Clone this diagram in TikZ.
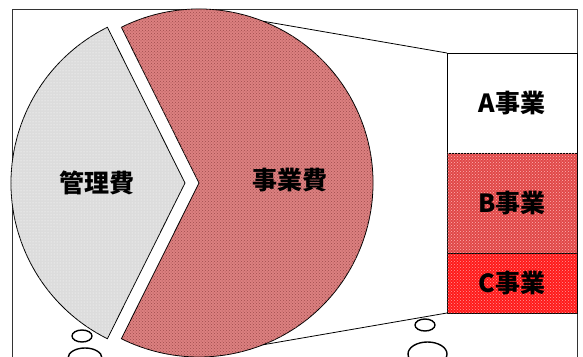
\documentclass[tikz,border=0pt]{standalone}
\usepackage{fontspec}
\newfontfamily\jpfont{Noto Sans CJK JP}
\usepackage{tikz}
\usetikzlibrary{calc}
\usetikzlibrary{positioning}
\usetikzlibrary{patterns}
\definecolor{mgrey}{HTML}{DCDCDC}
\definecolor{jpink}{HTML}{DC8080}
\definecolor{bred}{HTML}{E04848}
\definecolor{cred}{HTML}{FF1A1A}
\def\pieradius{174}
\tikzset{slice/.style={draw=black, line width=0.8pt}}
\tikzset{lbl/.style={font=\jpfont\bfseries\fontsize{25}{28}\selectfont, text=black}}
\tikzset{segbox/.style={draw=black, line width=0.8pt, minimum width=130pt, outer sep=0pt, inner sep=0pt, lbl}}
\tikzset{bubble/.style={draw=black, line width=1.4pt}}

\begin{document}
\begin{tikzpicture}[x=1pt, y=1pt]
\useasboundingbox (0,0) rectangle (583,356);
\clip (0,0) rectangle (583,356);
\draw[line width=0.8pt, black!80] (12,-5) -- (12,347) -- (577,347) -- (577,-5);
\coordinate (gc) at (185,173);
\coordinate (rc) at (199,173);
\draw[slice, fill=mgrey, postaction={pattern=dots, pattern color=white}]
  (gc) -- ([shift={(116.5:\pieradius)}]gc) arc (116.5:243.5:\pieradius) -- cycle;
\draw[slice, fill=jpink, postaction={pattern=crosshatch dots, pattern color=red!45!black!70}]
  (rc) -- ([shift={(116.5:\pieradius)}]rc) arc (116.5:-116.5:\pieradius) -- cycle;
\node (mg) [lbl] at (97,173) {管理費};
\node (jg) [lbl] at (290,176) {事業費};
\node (A) [segbox, fill=white, minimum height=100pt, anchor=north west] at (447,303) {A事業};
\node (B) [segbox, fill=bred, minimum height=100pt, below=0pt of A,
  postaction={pattern=crosshatch dots, pattern color=red!30!white}] {B事業};
\node (C) [segbox, fill=cred, minimum height=60pt, below=0pt of B,
  postaction={pattern=crosshatch dots, pattern color=red!40!white}] {C事業};
\coordinate (up) at ([shift={(68.4:\pieradius)}]rc);
\coordinate (dn) at ([shift={(-68.4:\pieradius)}]rc);
\draw[line width=0.8pt] (up) -- (A.north west);
\draw[line width=0.8pt] (dn) -- (C.south west);
\draw[bubble] (82,20) ellipse (10 and 6);
\draw[bubble] (85,-2) ellipse (17 and 10);
\draw[bubble] (425,31) ellipse (10 and 6);
\draw[bubble] (427.5,2) ellipse (19.5 and 12);
\end{tikzpicture}
\end{document}
